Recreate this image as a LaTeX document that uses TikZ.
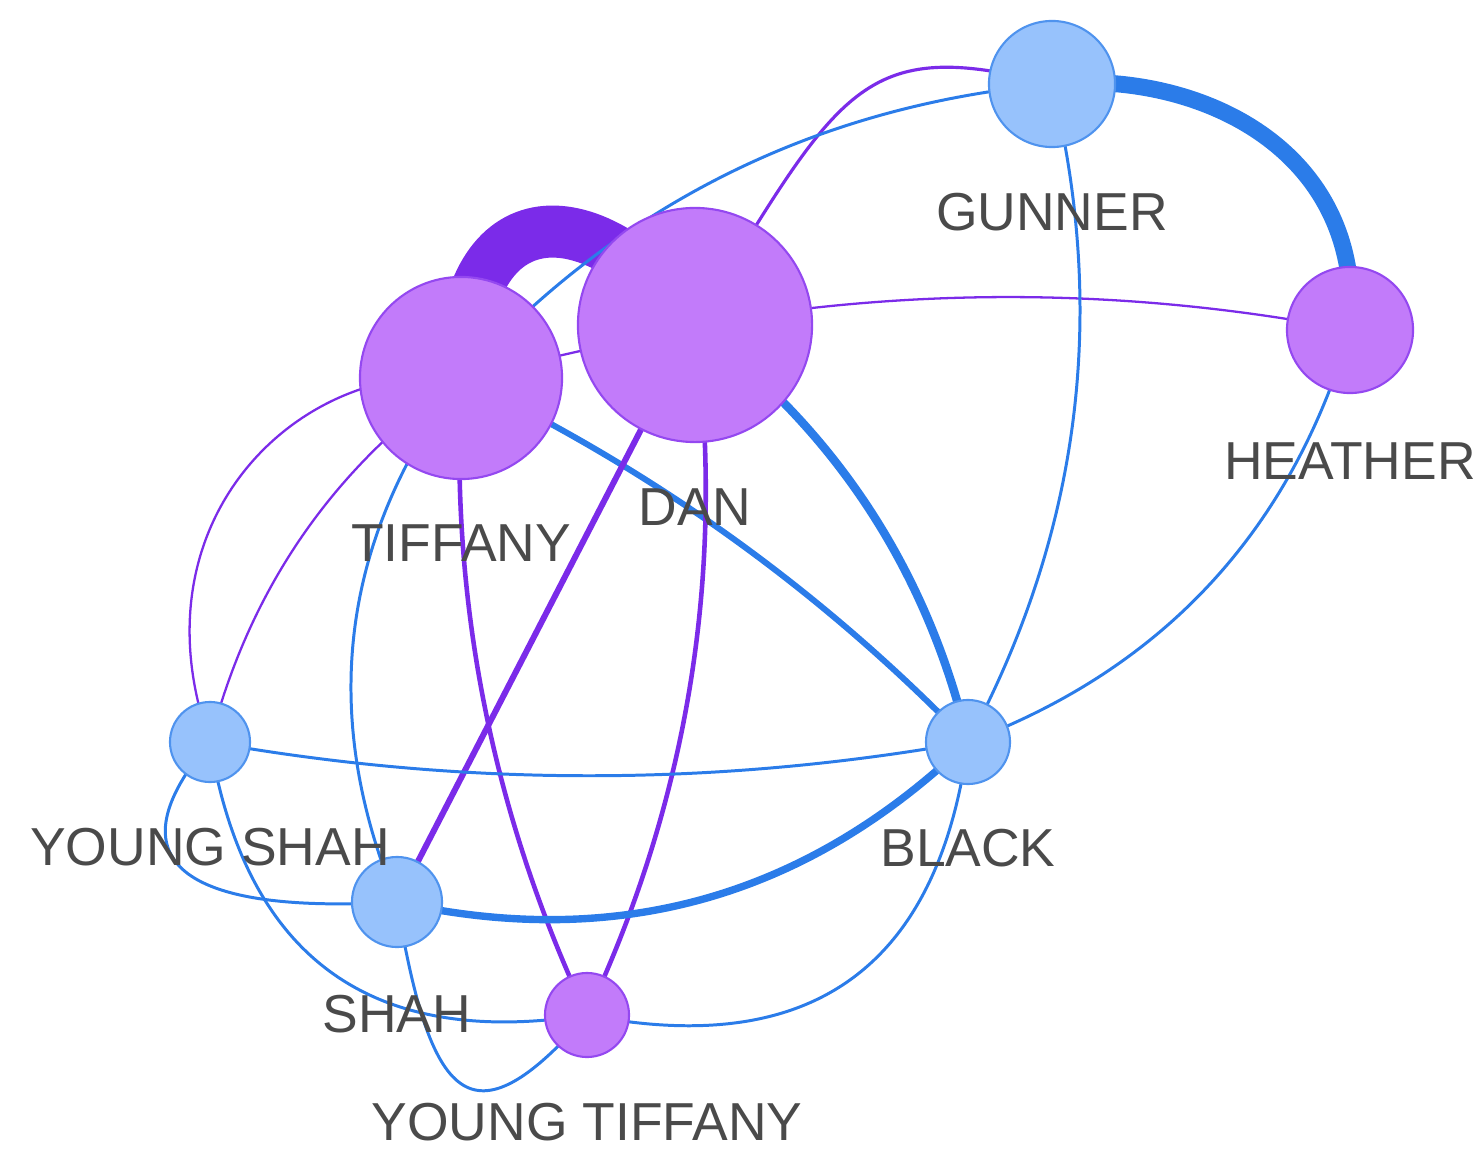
\documentclass[tikz,border=0pt]{standalone}
\usepackage{fontspec}
\setmainfont{Liberation Sans}
\usetikzlibrary{positioning,backgrounds}

\definecolor{boyfill}{HTML}{97C2FC}
\definecolor{boydraw}{HTML}{4F93EE}
\definecolor{girlfill}{HTML}{C27BFA}
\definecolor{girldraw}{HTML}{9448F0}
\definecolor{blueedge}{HTML}{2B7CE9}
\definecolor{purpleedge}{HTML}{7B2BE9}
\definecolor{lblgray}{HTML}{4A4A4A}

\tikzset{
    person/.style={circle, inner sep=0pt, line width=0.6pt},
    boy/.style={person, fill=boyfill, draw=boydraw},
    girl/.style={person, fill=girlfill, draw=girldraw},
    lbl/.style={inner sep=0pt, text=lblgray, font=\fontsize{15.2pt}{18pt}\selectfont,
                text height=0.383cm, text depth=0pt},
    be/.style={draw=blueedge, line width=#1}, be/.default=0.85pt,
    pe/.style={draw=purpleedge, line width=#1}, pe/.default=0.65pt,
}

\begin{document}
\begin{tikzpicture}[x=0.01cm, y=-0.01cm]
    \useasboundingbox (0,0) rectangle (1482,1155);

    % people
    \node[boy,  minimum size=1.26cm] (gunner)       at (1052,84)  {};
    \node[girl, minimum size=1.26cm] (heather)      at (1350,330) {};
    \node[girl, minimum size=2.34cm] (dan)          at (695,325)  {};
    \node[girl, minimum size=2.02cm] (tiffany)      at (461,378)  {};
    \node[boy,  minimum size=0.80cm] (youngshah)    at (210,742)  {};
    \node[boy,  minimum size=0.84cm] (black)        at (968,742)  {};
    \node[boy,  minimum size=0.90cm] (shah)         at (397,902)  {};
    \node[girl, minimum size=0.84cm] (youngtiffany) at (587,1015) {};

    % names
    \node[lbl, below=0.43cm of gunner]       (gunnerL)       {GUNNER};
    \node[lbl, below=0.46cm of heather]      (heatherL)      {HEATHER};
    \node[lbl, below=0.43cm of dan]          (danL)          {DAN};
    \node[lbl, below=0.42cm of tiffany]      (tiffanyL)      {TIFFANY};
    \node[lbl, below=0.43cm of youngshah]    (youngshahL)    {YOUNG SHAH};
    \node[lbl, below=0.42cm of black]        (blackL)        {BLACK};
    \node[lbl, below=0.45cm of shah]         (shahL)         {SHAH};
    \node[lbl, below=0.43cm of youngtiffany] (youngtiffanyL) {YOUNG TIFFANY};

    % ties
    \begin{pgfonlayer}{background}
    \draw[pe=14.8pt] (tiffany.center) .. controls (465,190) and (595,195) .. (dan.center);
    \draw[pe]        (tiffany.center) -- (dan.center);
    \draw[be=4.8pt]  (gunner.center) .. controls (1200,70) and (1365,150) .. (heather.center);
    \draw[pe=0.9pt]  (dan.center) .. controls (841,87) and (860,35) .. (gunner.center);
    \draw[be]        (tiffany.center) .. controls (619,204) and (816,106) .. (gunner.center);
    \draw[pe]        (dan.center) .. controls (913,286) and (1132,288) .. (heather.center);
    \draw[be]        (gunner.center) .. controls (1108,314) and (1080,533) .. (black.center);
    \draw[be]        (heather.center) .. controls (1291,531) and (1163,669) .. (black.center);
    \draw[be=2.4pt]  (dan.center) .. controls (836,431) and (927,570) .. (black.center);
    \draw[be=1.7pt]  (tiffany.center) .. controls (652,469) and (821,590) .. (black.center);
    \draw[pe=1.7pt]  (dan.center) -- (shah.center);
    \draw[pe=1.3pt]  (dan.center) .. controls (726,566) and (690,796) .. (youngtiffany.center);
    \draw[pe=1.3pt]  (tiffany.center) .. controls (450,601) and (492,813) .. (youngtiffany.center);
    \draw[pe]        (tiffany.center) .. controls (300,360) and (130,520) .. (youngshah.center);
    \draw[pe]        (tiffany.center) .. controls (332,468) and (249,590) .. (youngshah.center);
    \draw[be]        (tiffany.center) .. controls (340,541) and (319,715) .. (shah.center);
    \draw[be]        (youngshah.center) .. controls (463,787) and (715,787) .. (black.center);
    \draw[be=2.1pt]  (shah.center) .. controls (616,951) and (806,898) .. (black.center);
    \draw[be]        (black.center) .. controls (938,968) and (811,1059) .. (youngtiffany.center);
    \draw[be]        (youngshah.center) .. controls (110,860) and (180,915) .. (shah.center);
    \draw[be]        (youngshah.center) .. controls (246,958) and (371,1049) .. (youngtiffany.center);
    \draw[be]        (shah.center) .. controls (430,1100) and (470,1150) .. (youngtiffany.center);
    \end{pgfonlayer}
\end{tikzpicture}
\end{document}
